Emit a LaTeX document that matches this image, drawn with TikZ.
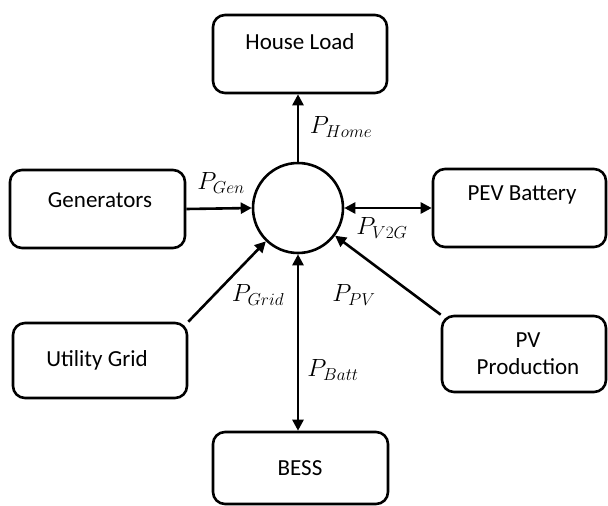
\documentclass[tikz,border=0pt]{standalone}
\usepackage{fontspec}
\setmainfont{Carlito}
\usetikzlibrary{arrows.meta}
\begin{document}
\begin{tikzpicture}[x=1pt,y=-1pt,
  box/.style={draw,line width=2.6pt,rounded corners=12pt,inner sep=0pt},
  txt/.style={font=\fontsize{23}{27}\selectfont,align=center,inner sep=0pt},
  lbl/.style={font=\fontsize{26}{30}\selectfont,inner sep=0pt},
  con/.style={line width=2.6pt},
  tip/.style={-{Triangle[length=11pt,width=11pt]}},
  btip/.style={{Triangle[length=11pt,width=11pt]}-{Triangle[length=11pt,width=11pt]}}]
\useasboundingbox (0,0) rectangle (608,506);
\node[box,minimum width=174pt,minimum height=78pt] (house) at (300,54) {};
\node[box,minimum width=175pt,minimum height=78pt] (gen) at (97.5,209) {};
\node[box,minimum width=173pt,minimum height=78pt] (pev) at (519.5,208) {};
\node[box,minimum width=174pt,minimum height=75pt] (grid) at (100,360.5) {};
\node[box,minimum width=175pt,minimum height=72pt] (bess) at (300.5,468) {};
\node[box,minimum width=164pt,minimum height=76pt] (pv) at (524,354) {};
\node[draw,circle,line width=2.6pt,minimum size=90pt,inner sep=0pt] (c) at (298,208) {};
\node[txt] (thouse) at (300,42) {House Load};
\node[txt] (tgen) at (100,200) {Generators};
\node[txt] (tpev) at (522,195) {PEV Battery};
\node[txt] (tgrid) at (97,360) {Utility Grid};
\node[txt] (tbess) at (300,468) {BESS};
\node[txt] (tpv) at (528,354) {PV\\Production};
\draw[con,tip] (c.north) -- (house.south -| c.north);
\draw[con,tip] (gen.east) -- (c.west);
\draw[con,btip] (c.east) -- (pev.west);
\draw[con,tip] (grid.north east) -- (c);
\draw[con,tip] (pv.north west) -- (c);
\draw[con,btip] (c.south) -- (bess.north -| c.south);
\node[lbl] (lhome) at (341,127) {$P_{Home}$};
\node[lbl] (lgen) at (221,183) {$P_{Gen}$};
\node[lbl] (lv2g) at (382,228) {$P_{V2G}$};
\node[lbl] (lgrid) at (258,295) {$P_{Grid}$};
\node[lbl] (lpv) at (354,295) {$P_{PV}$};
\node[lbl] (lbatt) at (333,370) {$P_{Batt}$};
\end{tikzpicture}
\end{document}
